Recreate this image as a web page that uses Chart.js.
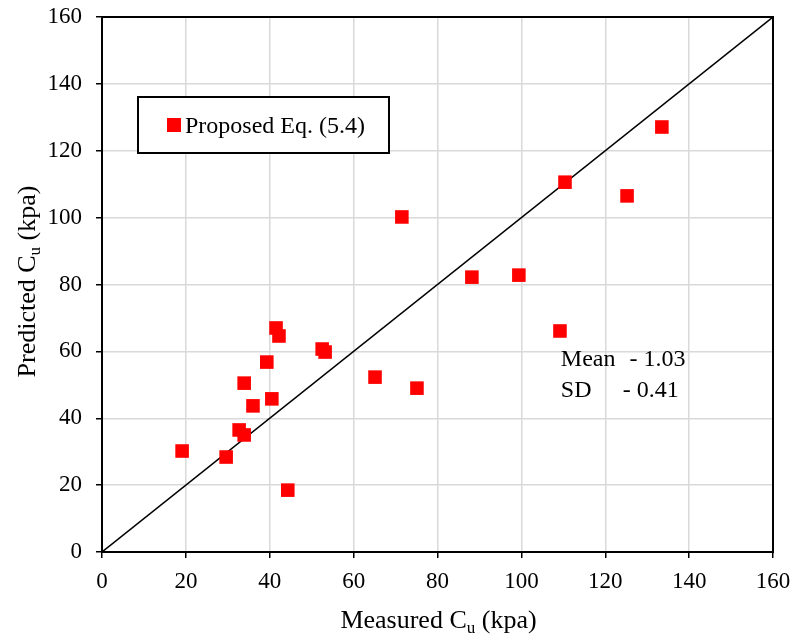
<!DOCTYPE html>
<html>
<head>
<meta charset="utf-8">
<script src="https://cdn.jsdelivr.net/npm/chart.js@4.4.0/dist/chart.umd.min.js"></script>
<style>
  html, body { margin: 0; padding: 0; background: #fff; }
  #wrap { width: 793px; height: 636px; }
</style>
</head>
<body>
<div id="wrap"><canvas id="myChart" width="793" height="636"></canvas></div>
<script>
// values
let measured  = [19.1, 29.6, 32.7, 33.9, 33.9, 36.0, 39.3, 40.5, 41.5, 42.2, 44.3, 52.5, 53.2, 65.1, 71.5, 75.1, 88.2, 99.4, 109.2, 110.4, 125.2, 133.5];
let predicted = [30.2, 28.4, 36.5, 35.0, 50.5, 43.7, 56.8, 45.8, 67.0, 64.6, 18.5, 60.7, 59.8, 52.3, 100.2, 49.0, 82.2, 82.8, 66.1, 110.6, 106.5, 127.1];
let lineX = [0, 160];
let lineY = [0, 160];
let seriesName = "Proposed Eq. (5.4)";
let statLabels = ["Mean", "SD"];
let statValues = ["1.03", "0.41"];

const FONT = "'Liberation Serif', 'Times New Roman', serif";

let points = measured.map((x, i) => ({ x: x, y: predicted[i] }));
let diag = lineX.map((x, i) => ({ x: x, y: lineY[i] }));

// frame, legend box, axis titles with subscript, stats text
const decorations = {
  id: "decorations",
  afterDraw(chart) {
    const ctx = chart.ctx;
    const a = chart.chartArea;
    const xs = chart.scales.x;
    const ys = chart.scales.y;
    ctx.save();

    // top and right frame
    ctx.strokeStyle = "#000";
    ctx.lineWidth = 2;
    ctx.strokeRect(a.left, a.top, a.right - a.left, a.bottom - a.top);

    // legend box
    ctx.lineWidth = 2;
    ctx.strokeStyle = "#000";
    ctx.fillStyle = "#fff";
    ctx.fillRect(138, 97, 251, 56);
    ctx.strokeRect(138, 97, 251, 56);
    ctx.fillStyle = chart.data.datasets[0].backgroundColor;
    ctx.fillRect(167, 118, 14, 14);
    ctx.fillStyle = "#000";
    ctx.font = "24px " + FONT;
    ctx.textBaseline = "alphabetic";
    ctx.textAlign = "left";
    ctx.fillText(chart.data.datasets[0].label, 185, 133);

    // stats text
    let labelX = xs.getPixelForValue(109.4);
    let rows = [55.7, 46.4];
    let valueX = [xs.getPixelForValue(125.8), xs.getPixelForValue(124.2)];
    statLabels.forEach((lab, i) => {
      ctx.fillText(lab, labelX, ys.getPixelForValue(rows[i]));
      ctx.fillText("- " + statValues[i], valueX[i], ys.getPixelForValue(rows[i]));
    });

    // axis title: "pre C_u post"
    function drawTitle(pre, post, cx, baseY) {
      ctx.font = "26px " + FONT;
      let w1 = ctx.measureText(pre + "C").width;
      let w3 = ctx.measureText(" " + post).width;
      ctx.font = "17px " + FONT;
      let w2 = ctx.measureText("u").width;
      let start = cx - (w1 + w2 + w3) / 2;
      ctx.font = "26px " + FONT;
      ctx.fillText(pre + "C", start, baseY);
      ctx.font = "17px " + FONT;
      ctx.fillText("u", start + w1, baseY + 5);
      ctx.font = "26px " + FONT;
      ctx.fillText(" " + post, start + w1 + w2, baseY);
    }

    // x title
    drawTitle("Measured ", "(kpa)", (a.left + a.right) / 2 + 1, 628);

    // y title
    ctx.save();
    ctx.translate(35, (a.top + a.bottom) / 2 - 3);
    ctx.rotate(-Math.PI / 2);
    drawTitle("Predicted ", "(kpa)", 0, 0);
    ctx.restore();

    ctx.restore();
  }
};

let ctx = document.getElementById("myChart").getContext("2d");
let myChart = new Chart(ctx, {
  type: "scatter",
  data: {
    datasets: [
      {
        label: seriesName,
        data: points,
        backgroundColor: "#ff0000",
        borderColor: "#ff0000",
        pointStyle: "rect",
        pointRadius: 9.6,
        borderWidth: 0,
        order: 1
      },
      {
        label: "1:1",
        data: diag,
        showLine: true,
        borderColor: "#000",
        borderWidth: 1.5,
        pointRadius: 0,
        order: 2
      }
    ]
  },
  options: {
    responsive: false,
    animation: false,
    layout: { padding: { left: 0, right: 20, top: 17, bottom: 0 } },
    plugins: {
      legend: { display: false },
      tooltip: { enabled: false }
    },
    scales: {
      x: {
        type: "linear",
        min: 0,
        max: 160,
        afterFit: scale => {
          scale.height = 84;
          scale.paddingLeft = 0;
          scale.paddingRight = 0;
        },
        ticks: { stepSize: 20, color: "#000", padding: 10, font: { family: FONT, size: 23 } },
        grid: { color: "#d9d9d9", lineWidth: 1.5, tickColor: "#000", tickLength: 6 },
        border: { color: "#000", width: 2 }
      },
      y: {
        type: "linear",
        min: 0,
        max: 160,
        afterFit: scale => {
          scale.width = 102;
          scale.paddingTop = 0;
          scale.paddingBottom = 0;
        },
        ticks: { stepSize: 20, color: "#000", padding: 14, font: { family: FONT, size: 23 } },
        grid: { color: "#d9d9d9", lineWidth: 1.5, tickColor: "#000", tickLength: 6 },
        border: { color: "#000", width: 2 }
      }
    }
  },
  plugins: [decorations]
});
</script>
</body>
</html>
